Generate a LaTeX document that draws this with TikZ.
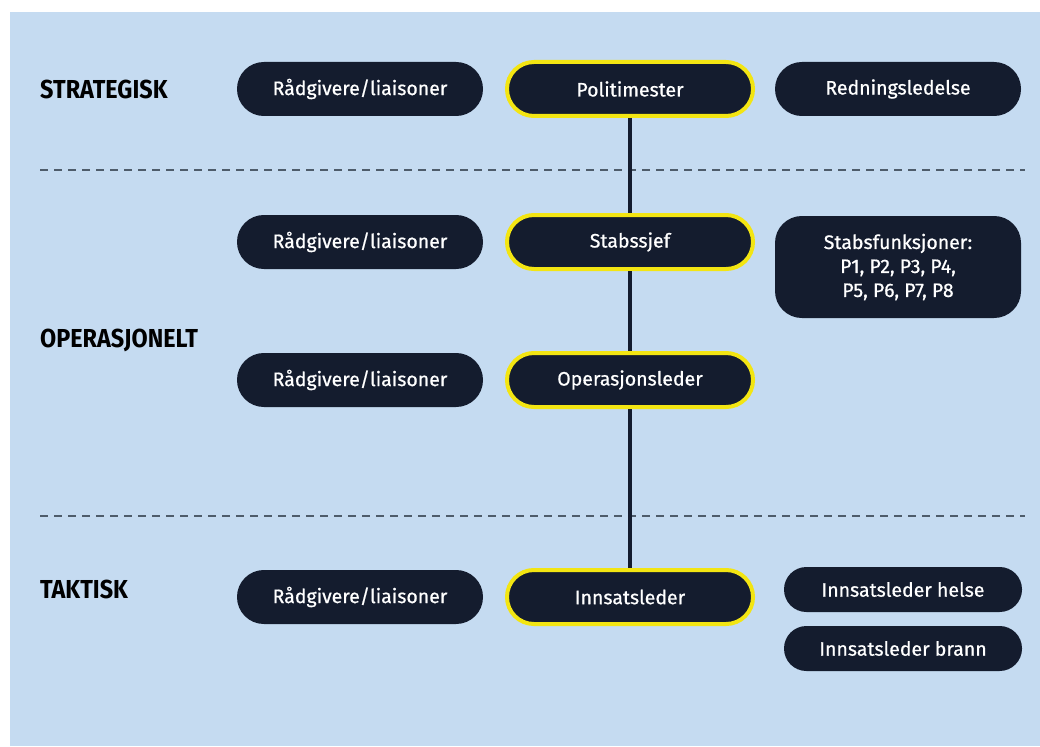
\documentclass[tikz,border=0pt]{standalone}
\usepackage{fontspec}
\setsansfont{Fira Sans}[FakeBold=0.7]
\newfontfamily\levelfont{Fira Sans}[FakeStretch=0.9]
\usetikzlibrary{positioning}

\definecolor{panelblue}{HTML}{C5DBF1}
\definecolor{navy}{HTML}{141C2E}
\definecolor{chiefyellow}{HTML}{F3E512}
\definecolor{dashgray}{HTML}{4E5C6B}

\tikzset{
    box/.style={fill=navy, text=white, rounded corners=26.9pt,
        minimum width=246pt, minimum height=54pt, inner sep=0pt,
        font=\sffamily\fontsize{19.5}{24}\selectfont},
    chief/.style={box, draw=chiefyellow, line width=4pt},
    smallbox/.style={box, rounded corners=22.4pt, minimum width=238pt,
        minimum height=45pt},
    level/.style={right, inner sep=0pt,
        font=\levelfont\bfseries\fontsize{26}{28}\selectfont},
    levelsep/.style={dashgray, line width=1.2pt, dash pattern=on 8pt off 6pt},
    chain/.style={navy, line width=3.5pt},
}

\begin{document}
\begin{tikzpicture}[x=1pt,y=-1pt]
        % Background
        \useasboundingbox (0,0) rectangle (1040,746);
        \path [fill=panelblue] (10,12) rectangle (1040,746);

        % Level separators
        \draw [levelsep] (40,170) -- (1025,170);
        \draw [levelsep] (40,516) -- (1025,516);

        % Levels
        \node [level] (strat) at (40,89)  {STRATEGISK};
        \node [level] (oper)  at (40,340) {OPERASJONELT};
        \node [level] (takt)  at (40,589) {TAKTISK};

        % Strategic
        \node [box]   (raad1)  at (360,89) {Rådgivere/liaisoner};
        \node [chief] (polit)  at (630,89) {Politimester};
        \node [box]   (redn)   at (898,89) {Redningsledelse};

        % Operational
        \node [box]   (raad2)  at (360,242) {Rådgivere/liaisoner};
        \node [chief] (stab)   at (630,242) {Stabssjef};
        \node [box, minimum height=102pt, align=center] (funk) at (898,267)
            {Stabsfunksjoner:\\P1, P2, P3, P4,\\P5, P6, P7, P8};
        \node [box]   (raad3)  at (360,380) {Rådgivere/liaisoner};
        \node [chief] (ops)    at (630,380) {Operasjonsleder};

        % Tactical
        \node [box]   (raad4)  at (360,597) {Rådgivere/liaisoner};
        \node [chief] (innsats) at (630,597) {Innsatsleder};
        \node [smallbox] (helse) at (903,589.5) {Innsatsleder helse};
        \node [smallbox] (brann) at (903,648.5) {Innsatsleder brann};

        % Chain of command
        \draw [chain] (polit) -- (stab);
        \draw [chain] (stab) -- (ops);
        \draw [chain] (ops) -- (innsats);
    \end{tikzpicture}
\end{document}
